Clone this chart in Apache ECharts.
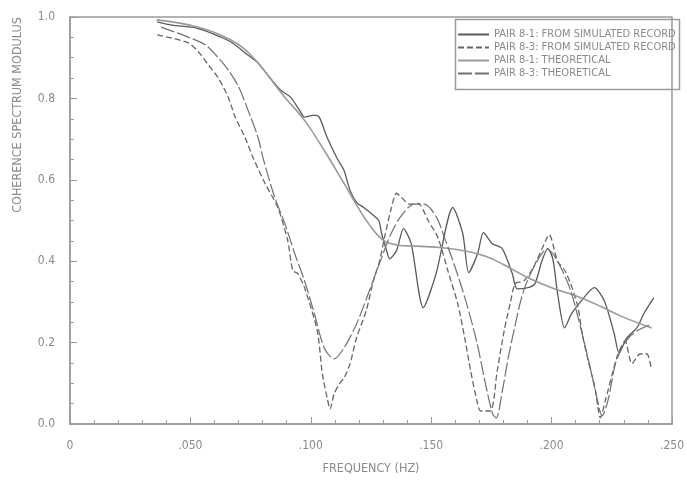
<!DOCTYPE html>
<html>
<head>
<meta charset="utf-8">
<script src="https://cdn.jsdelivr.net/npm/echarts@6/dist/echarts.min.js"></script>
<style>
html,body{margin:0;padding:0;background:#fff;}
#chart{width:687px;height:482px;}
</style>
</head>
<body>
<div id="chart"></div>
<script>
// ---- data ----
var seriesNames = [
  'PAIR 8-1: FROM SIMULATED RECORD',
  'PAIR 8-3: FROM SIMULATED RECORD',
  'PAIR 8-1: THEORETICAL',
  'PAIR 8-3: THEORETICAL'
];
var xTickLabels = ['0', '.050', '.100', '.150', '.200', '.250'];
var yTickLabels = ['0.0', '0.2', '0.4', '0.6', '0.8', '1.0'];

var sim81Freq = [0.0362,0.0423,0.0522,0.0604,0.0670,0.0740,0.0781,0.0822,0.0875,0.0916,0.0953,0.0974,0.1015,0.1035,0.1068,0.1109,0.1138,0.1163,0.1191,0.1220,0.1245,0.1282,0.1294,0.1315,0.1327,0.1356,0.1385,0.1417,0.1467,0.1520,0.1590,0.1631,0.1656,0.1693,0.1717,0.1754,0.1795,0.1837,0.1857,0.1902,0.1931,0.1960,0.1984,0.2005,0.2025,0.2054,0.2083,0.2124,0.2177,0.2219,0.2260,0.2280,0.2313,0.2354,0.2383,0.2424];
var sim81Coh  = [0.988,0.980,0.973,0.956,0.938,0.906,0.887,0.857,0.820,0.803,0.771,0.754,0.759,0.754,0.704,0.653,0.623,0.574,0.544,0.532,0.520,0.500,0.468,0.426,0.406,0.426,0.480,0.443,0.286,0.369,0.532,0.468,0.372,0.419,0.470,0.443,0.431,0.369,0.332,0.335,0.345,0.401,0.431,0.406,0.320,0.236,0.271,0.303,0.335,0.303,0.222,0.175,0.212,0.236,0.271,0.310];

var sim83Freq = [0.0362,0.0423,0.0493,0.0534,0.0575,0.0616,0.0657,0.0686,0.0727,0.0760,0.0810,0.0863,0.0904,0.0925,0.0945,0.0974,0.1027,0.1048,0.1068,0.1080,0.1097,0.1120,0.1138,0.1163,0.1190,0.1230,0.1260,0.1286,0.1306,0.1335,0.1356,0.1376,0.1410,0.1446,0.1487,0.1528,0.1569,0.1610,0.1639,0.1664,0.1693,0.1705,0.1746,0.1774,0.1803,0.1828,0.1849,0.1885,0.1920,0.1960,0.1990,0.2025,0.2055,0.2085,0.2110,0.2127,0.2152,0.2180,0.2193,0.2202,0.2223,0.2252,0.2276,0.2305,0.2334,0.2367,0.2396,0.2413];
var sim83Coh  = [0.956,0.948,0.936,0.914,0.882,0.850,0.803,0.754,0.704,0.655,0.591,0.532,0.451,0.377,0.370,0.335,0.229,0.123,0.064,0.037,0.074,0.100,0.113,0.148,0.212,0.278,0.352,0.401,0.458,0.532,0.567,0.557,0.540,0.542,0.500,0.458,0.377,0.296,0.212,0.130,0.049,0.032,0.032,0.130,0.229,0.296,0.345,0.352,0.380,0.430,0.465,0.400,0.377,0.335,0.286,0.222,0.155,0.089,0.039,0.015,0.057,0.123,0.172,0.204,0.148,0.172,0.172,0.138];

var theo81Freq = [0.0360,0.0534,0.0670,0.0752,0.0892,0.0974,0.1056,0.1138,0.1191,0.1245,0.1302,0.1356,0.1438,0.1549,0.1643,0.1726,0.1800,0.1900,0.2000,0.2100,0.2200,0.2300,0.2416];
var theo81Coh  = [0.993,0.975,0.943,0.906,0.803,0.746,0.672,0.591,0.537,0.488,0.451,0.440,0.437,0.433,0.425,0.412,0.392,0.360,0.335,0.315,0.290,0.262,0.236];

var theo83Freq = [0.0378,0.0493,0.0563,0.0616,0.0657,0.0699,0.0740,0.0781,0.0801,0.0850,0.0892,0.0933,0.0974,0.1015,0.1056,0.1097,0.1138,0.1190,0.1245,0.1295,0.1335,0.1380,0.1430,0.1470,0.1520,0.1560,0.1600,0.1645,0.1690,0.1725,0.1755,0.1770,0.1795,0.1820,0.1850,0.1875,0.1905,0.1950,0.1980,0.2015,0.2075,0.2115,0.2160,0.2190,0.2210,0.2235,0.2265,0.2295,0.2325,0.2365,0.2415];
var theo83Coh  = [0.975,0.950,0.931,0.900,0.870,0.830,0.770,0.704,0.655,0.557,0.493,0.419,0.352,0.271,0.187,0.160,0.187,0.246,0.330,0.410,0.470,0.515,0.540,0.540,0.510,0.450,0.384,0.300,0.200,0.100,0.025,0.015,0.080,0.163,0.246,0.310,0.360,0.410,0.430,0.410,0.335,0.250,0.140,0.060,0.020,0.060,0.148,0.190,0.215,0.232,0.245];

function zip(xs, ys) { return xs.map(function (x, i) { return [x, ys[i]]; }); }

var FONT = '"DejaVu Sans Condensed", "Liberation Sans Narrow", "DejaVu Sans", sans-serif';
var TXT = '#8a8a8a';
var AX = '#9a9a9a';

var chart = echarts.init(document.getElementById('chart'), null, {renderer: 'canvas'});
chart.setOption({
  animation: false,
  backgroundColor: '#ffffff',
  grid: {left: 70, right: 7, top: 17, bottom: 58, show: true, borderColor: AX, borderWidth: 1.5, backgroundColor: 'transparent'},
  graphic: [
    {type: 'rect', left: 453, top: 17, shape: {width: 224, height: 70}, style: {fill: 'none', stroke: AX, lineWidth: 1.5}, z: 10},
    {type: 'text', x: 18, y: 115, rotation: Math.PI / 2,
     style: {text: 'COHERENCE SPECTRUM MODULUS', fill: TXT, font: '12.5px ' + FONT, align: 'center', verticalAlign: 'middle'}}
  ],
  legend: {
    orient: 'vertical', left: 453, top: 17, padding: [12, 4, 11, 4],
    itemWidth: 31, itemHeight: 8, itemGap: 2,
    itemStyle: {opacity: 0},
    textStyle: {color: TXT, fontFamily: FONT, fontSize: 11},
    data: seriesNames
  },
  xAxis: {
    type: 'value', min: 0, max: 0.25, interval: 0.05,
    name: 'FREQUENCY (HZ)', nameLocation: 'middle', nameGap: 38,
    nameTextStyle: {color: TXT, fontFamily: FONT, fontSize: 12.5},
    axisLine: {show: true, lineStyle: {color: AX, width: 1.5}},
    axisTick: {show: true, inside: true, length: 7, lineStyle: {color: AX}},
    minorTick: {show: true, splitNumber: 5, length: 4, lineStyle: {color: AX}},
    splitLine: {show: false},
    axisLabel: {color: TXT, fontFamily: FONT, fontSize: 12, margin: 16,
      formatter: function (v) { return xTickLabels[Math.round(v / 0.05)]; }}
  },
  yAxis: {
    type: 'value', min: 0, max: 1, interval: 0.2,
    axisLine: {show: true, lineStyle: {color: AX, width: 1.5}},
    axisTick: {show: true, inside: true, length: 7, lineStyle: {color: AX}},
    minorTick: {show: true, splitNumber: 4, length: 4, lineStyle: {color: AX}},
    splitLine: {show: false},
    axisLabel: {color: TXT, fontFamily: FONT, fontSize: 12, margin: 15,
      formatter: function (v) { return yTickLabels[Math.round(v / 0.2)]; }}
  },
  series: [
    {name: seriesNames[0], type: 'line', data: zip(sim81Freq, sim81Coh), symbol: 'none', smooth: 0.25,
     lineStyle: {color: '#5a5a5a', width: 1.3, type: 'solid'}, itemStyle: {color: '#5a5a5a'}},
    {name: seriesNames[1], type: 'line', data: zip(sim83Freq, sim83Coh), symbol: 'none', smooth: 0.25,
     lineStyle: {color: '#666666', width: 1.3, type: [6, 3]}, itemStyle: {color: '#666666'}},
    {name: seriesNames[2], type: 'line', data: zip(theo81Freq, theo81Coh), symbol: 'none', smooth: 0.4,
     lineStyle: {color: '#9a9a9a', width: 1.6, type: 'solid'}, itemStyle: {color: '#9a9a9a'}},
    {name: seriesNames[3], type: 'line', data: zip(theo83Freq, theo83Coh), symbol: 'none', smooth: 0.3,
     lineStyle: {color: '#707070', width: 1.2, type: [14, 3]}, itemStyle: {color: '#707070'}}
  ]
});
</script>
</body>
</html>
